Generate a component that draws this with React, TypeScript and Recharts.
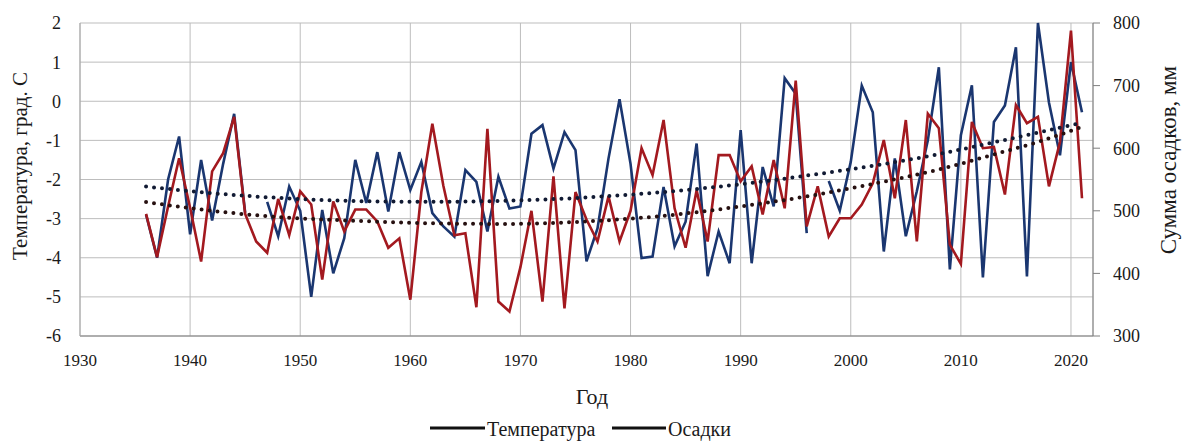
import React from 'react';
import { LineChart, Line, XAxis, YAxis, CartesianGrid } from 'recharts';

const years = [
    1936, 1937, 1938, 1939, 1940, 1941, 1942, 1943, 1944, 1945, 1946, 1947, 1948, 1949, 1950,
    1951, 1952, 1953, 1954, 1955, 1956, 1957, 1958, 1959, 1960, 1961, 1962, 1963, 1964, 1965,
    1966, 1967, 1968, 1969, 1970, 1971, 1972, 1973, 1974, 1975, 1976, 1977, 1978, 1979, 1980,
    1981, 1982, 1983, 1984, 1985, 1986, 1987, 1988, 1989, 1990, 1991, 1992, 1993, 1994, 1995,
    1996, 1997, 1998, 1999, 2000, 2001, 2002, 2003, 2004, 2005, 2006, 2007, 2008, 2009, 2010,
    2011, 2012, 2013, 2014, 2015, 2016, 2017, 2018, 2019, 2020, 2021,
];

// температура, град. С (левая ось)
const temperature = [
    -2.9, -4.0, -2.0, -0.9, -3.4, -1.5, -3.05, -1.6, -0.32, -2.85, null, -2.57, -3.45, -2.18, -2.8,
    -5.0, -2.78, -4.4, -3.5, -1.5, -2.6, -1.3, -2.82, -1.3, -2.27, -1.55, -2.86, -3.2, -3.46, -1.76,
    -2.06, -3.33, -1.93, -2.74, -2.69, -0.83, -0.61, -1.72, -0.79, -1.25, -4.09, -3.25, -1.46, 0.05, -1.6,
    -4.01, -3.97, -2.19, -3.71, -3.08, -1.08, -4.47, -3.33, -4.14, -0.74, -4.14, -1.68, -2.69, 0.59, 0.19,
    -3.37, null, -2.04, -2.8, -1.55, 0.4, -0.28, -3.84, -1.46, -3.45, -2.3, -1.0, 0.87, -4.3, -0.87,
    0.41, -4.5, -0.53, -0.11, 1.38, -4.48, 2.0, -0.03, -1.38, 1.0, -0.28,
];

// сумма осадков, мм (правая ось)
const precipitation = [
    495, 426, 507, 584, 505, 419, 563, 592, 650, 495, 451, 433, 519, 461, 531,
    510, 390, 515, 467, 502, 502, 483, 441, 456, 358, 530, 639, 540, 461, 464,
    346, 631, 355, 339, 410, 500, 355, 555, 344, 530, 486, 451, 523, 451, 500,
    600, 557, 645, 504, 441, 533, 451, 589, 589, 547, 571, 494, 581, 504, 708,
    475, 539, 459, 488, 488, 510, 544, 613, 520, 645, 451, 655, 632, 446, 415,
    642, 600, 602, 526, 669, 640, 650, 539, 610, 788, 520,
];

// полиномиальные линии тренда
const trendYears = [1936, 1942, 1948, 1955, 1962, 1969, 1976, 1983, 1990, 1996, 2002, 2008, 2013, 2017, 2021];
const temperatureTrend = [-2.18, -2.35, -2.47, -2.55, -2.57, -2.54, -2.46, -2.32, -2.12, -1.9, -1.65, -1.35, -1.05, -0.8, -0.55];
const precipitationTrend = [514, 500, 490, 484, 480, 479, 483, 492, 507, 523, 543, 566, 590, 610, 634];

const yearTicks = [1930, 1940, 1950, 1960, 1970, 1980, 1990, 2000, 2010, 2020];
const tempTicks = [-6, -5, -4, -3, -2, -1, 0, 1, 2];
const precipTicks = [300, 400, 500, 600, 700, 800];

const data = years.map((year, i) => {
    const t = trendYears.indexOf(year);
    return {
        year,
        temp: temperature[i],
        precip: precipitation[i],
        tempTrend: t >= 0 ? temperatureTrend[t] : undefined,
        precipTrend: t >= 0 ? precipitationTrend[t] : undefined,
    };
});

const FONT = 'Liberation Serif, DejaVu Serif, serif';
const TEMP_COLOR = '#1a3670';
const PRECIP_COLOR = '#a3191f';

export default function App() {
    const tickStyle = { fontFamily: FONT, fontSize: 17, fill: '#1a1a1a', style: { fontFamily: FONT } };
    return (
        <div style={{ position: 'absolute', left: 0, top: 0, width: 1186, height: 441, background: '#fff', fontFamily: FONT }}>
            <LineChart width={1186} height={441} data={data} margin={{ top: 23, right: 0, left: 0, bottom: 0 }}>
                <CartesianGrid yAxisId="t" stroke="#bdbdbd" ticks={yearTicks} />
                <XAxis
                    dataKey="year"
                    type="number"
                    domain={[1930, 2022]}
                    ticks={yearTicks}
                    allowDataOverflow
                    height={105}
                    tickLine={false}
                    tickSize={10}
                    tickMargin={8}
                    axisLine={{ stroke: '#7f7f7f' }}
                    tick={tickStyle}
                />
                <YAxis
                    yAxisId="t"
                    orientation="left"
                    domain={[-6, 2]}
                    ticks={tempTicks}
                    width={80}
                    tickLine={false}
                    tickSize={10}
                    tickMargin={9}
                    axisLine={{ stroke: '#a6a6a6' }}
                    tick={{ ...tickStyle, fontSize: 18 }}
                />
                <YAxis
                    yAxisId="p"
                    orientation="right"
                    domain={[300, 800]}
                    ticks={precipTicks}
                    width={93}
                    tickSize={7}
                    tickMargin={13}
                    tickLine={{ stroke: '#7f7f7f' }}
                    axisLine={{ stroke: '#7f7f7f' }}
                    tick={{ ...tickStyle, fontSize: 18, textAnchor: 'start' }}
                />
                <Line
                    yAxisId="t"
                    dataKey="temp"
                    type="linear"
                    stroke={TEMP_COLOR}
                    strokeWidth={2.6}
                    dot={false}
                    activeDot={false}
                    isAnimationActive={false}
                />
                <Line
                    yAxisId="p"
                    dataKey="precip"
                    type="linear"
                    stroke={PRECIP_COLOR}
                    strokeWidth={2.6}
                    dot={false}
                    activeDot={false}
                    isAnimationActive={false}
                />
                <Line
                    yAxisId="t"
                    dataKey="tempTrend"
                    type="monotone"
                    connectNulls
                    stroke="#111a33"
                    strokeWidth={4}
                    strokeLinecap="round"
                    strokeDasharray="0 8"
                    dot={false}
                    activeDot={false}
                    isAnimationActive={false}
                />
                <Line
                    yAxisId="p"
                    dataKey="precipTrend"
                    type="monotone"
                    connectNulls
                    stroke="#261010"
                    strokeWidth={4}
                    strokeLinecap="round"
                    strokeDasharray="0 8"
                    dot={false}
                    activeDot={false}
                    isAnimationActive={false}
                />
            </LineChart>
            <svg
                width={1186}
                height={441}
                style={{ position: 'absolute', left: 0, top: 0, pointerEvents: 'none', fontFamily: FONT }}
                fill="#1a1a1a"
            >
                <text x={20} y={166} transform="rotate(-90 20 166)" textAnchor="middle" dominantBaseline="central" fontSize={21}>
                    Температура,  град. С
                </text>
                <text x={1168} y={160} transform="rotate(-90 1168 160)" textAnchor="middle" dominantBaseline="central" fontSize={23}>
                    Сумма осадков, мм
                </text>
                <text x={592} y={396} textAnchor="middle" dominantBaseline="central" fontSize={22}>
                    Год
                </text>
                <line x1={430} x2={485} y1={428} y2={428} stroke="#111" strokeWidth={3} />
                <text x={487} y={429} dominantBaseline="central" fontSize={20}>
                    Температура
                </text>
                <line x1={612} x2={666} y1={428} y2={428} stroke="#111" strokeWidth={3} />
                <text x={668} y={429} dominantBaseline="central" fontSize={20}>
                    Осадки
                </text>
            </svg>
        </div>
    );
}
